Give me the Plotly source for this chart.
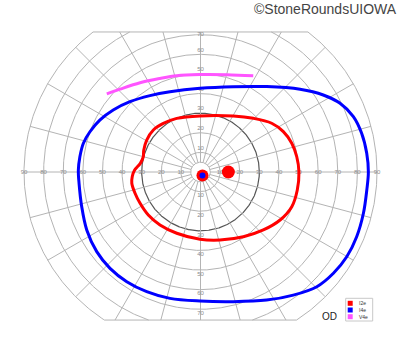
import numpy as np
import plotly.graph_objects as go

# ---------------- data (meridian in degrees, eccentricity in degrees) ----------------
i2e_theta = [0, 9, 17.5, 26, 34.4, 45.5, 59.6, 90.5, 113.9, 127.4, 138.3, 149.3, 159, 165.2,
             171.8, 178.3, 184, 189.3, 198, 207.4, 219.5, 232.6, 248.8, 269.6, 286, 303.5,
             317.3, 328.9, 339.2, 349.5, 360]
i2e_r = [50.2, 49.7, 48.8, 47.0, 44.0, 38.4, 33.1, 28.6, 29.9, 31.2, 32.2, 31.9, 31.0, 30.2,
         31.0, 33.6, 34.9, 35.5, 35.1, 34.7, 34.5, 34.0, 33.5, 34.3, 36.1, 39.6,
         43.6, 47.4, 49.8, 50.2, 50.2]

i4e_theta = [0, 6.4, 13.5, 19.9, 26.2, 32.1, 39.7, 52.2, 69, 90.3, 110.8, 123.5, 135.1, 144.6,
             152.6, 160, 166.2, 172.8, 179.1, 185.3, 196.3, 207, 217.5, 226.8, 236.1, 245.8,
             256.4, 269.8, 284.2, 297.3, 307, 315.4, 322.7, 329.9, 337.5, 345.8, 353.8, 360]
i4e_r = [85.6, 85.3, 84.5, 82.9, 79.3, 73.9, 66.0, 55.1, 46.6, 42.7, 43.8, 46.7, 50.8, 54.6,
         57.7, 60.0, 61.5, 62.0, 62.3, 62.2, 63.1, 65.1, 66.7, 67.4, 67.4, 66.9,
         66.3, 65.8, 68.2, 73.5, 78.6, 83.3, 85.2, 86.2, 86.2, 85.7, 85.3, 85.6]

v4e_theta = [140.2, 134.2, 124.1, 113.4, 103.9, 90.3, 74.9, 61.3]
v4e_r = [62.2, 58.9, 55.0, 52.0, 50.6, 49.7, 51.4, 56.0]

blind_spot_theta = [0]
blind_spot_r = [14.2]
center_theta = [300]
center_r = [2.0]

ring_radii = [5, 10, 20, 30, 40, 50, 60, 70, 80, 90]
meridians = list(range(0, 360, 15))
h_labels = [10, 20, 30, 40, 50, 60, 70, 80, 90]
v_labels = [10, 20, 30, 40, 50, 60, 70]
legend_names = ["I2e", "I4e", "V4e"]
legend_colors = ["#ff0000", "#0000ff", "#ff55ff"]

# ---------------- geometry ----------------
S = 1.961           # px per degree
CX, CY = 200.5, 172.0
TOP, BOT = 71.4, 75.5   # clip limits (deg)
RMAX = 90


def pol(theta, r):
    t = np.radians(np.asarray(theta, float))
    r = np.asarray(r, float)
    return r * np.cos(t), r * np.sin(t)


def px2d(px, py):
    return (px - CX) / S, (CY - py) / S


def ring_xy(r):
    ranges = []
    excl = []
    if r > TOP:
        a = np.degrees(np.arcsin(TOP / r))
        excl.append((a, 180 - a))
    if r > BOT:
        a = np.degrees(np.arcsin(BOT / r))
        excl.append((180 + a, 360 - a))
    start = 0.0
    for (a, b) in excl:
        ranges.append((start, a))
        start = b
    ranges.append((start, 360.0))
    xs, ys = [], []
    for (a, b) in ranges:
        t = np.linspace(a, b, max(2, int((b - a) * 2)))
        x, y = pol(t, np.full_like(t, r))
        xs += list(x) + [None]
        ys += list(y) + [None]
    return xs, ys


fig = go.Figure()
grid = "#b4b4b4"

for r in ring_radii:
    xs, ys = ring_xy(r)
    fig.add_trace(go.Scatter(x=xs, y=ys, mode="lines",
                             line=dict(color="#555555" if r == 30 else grid, width=1.2 if r == 30 else 1),
                             hoverinfo="skip", showlegend=False))

mx, my = [], []
for m in meridians:
    s = np.sin(np.radians(m))
    rend = RMAX
    if s > 1e-9:
        rend = min(rend, TOP / s)
    elif s < -1e-9:
        rend = min(rend, BOT / -s)
    x, y = pol([m, m], [5, rend])
    mx += list(x) + [None]
    my += list(y) + [None]
fig.add_trace(go.Scatter(x=mx, y=my, mode="lines", line=dict(color=grid, width=1),
                         hoverinfo="skip", showlegend=False))

# clip lines at top and bottom
wt = np.sqrt(RMAX ** 2 - TOP ** 2)
wb = np.sqrt(RMAX ** 2 - BOT ** 2)
fig.add_trace(go.Scatter(x=[-wt, wt, None, -wb, wb], y=[TOP, TOP, None, -BOT, -BOT], mode="lines",
                         line=dict(color=grid, width=1), hoverinfo="skip", showlegend=False))

# tick labels
lx, ly, lt = [], [], []
for v in h_labels:
    lx += [v, -v]
    ly += [0, 0]
    lt += [str(v), str(v)]
for v in v_labels:
    lx += [0, 0]
    ly += [min(v + 2.2, 70.3), -(v + 2.2)]
    lt += [str(v), str(v)]
fig.add_trace(go.Scatter(x=lx, y=ly, text=lt, mode="text",
                         textfont=dict(size=6, color="#8c8c8c", family="Liberation Sans"),
                         hoverinfo="skip", showlegend=False))

# isopters
x, y = pol(v4e_theta, v4e_r)
fig.add_trace(go.Scatter(x=x, y=y, mode="lines", line=dict(color=legend_colors[2], width=3, shape="spline"),
                         showlegend=False))
x, y = pol(i4e_theta, i4e_r)
fig.add_trace(go.Scatter(x=x, y=y, mode="lines", line=dict(color=legend_colors[1], width=3, shape="spline"),
                         showlegend=False))
x, y = pol(i2e_theta, i2e_r)
fig.add_trace(go.Scatter(x=x, y=y, mode="lines", line=dict(color=legend_colors[0], width=3, shape="spline"),
                         showlegend=False))

# blind spot and centre
x, y = pol(blind_spot_theta, blind_spot_r)
fig.add_trace(go.Scatter(x=x, y=y, mode="markers", marker=dict(color="#ff0000", size=13, line=dict(width=0)),
                         showlegend=False))
x, y = pol(center_theta, center_r)
fig.add_trace(go.Scatter(x=x, y=y, mode="markers",
                         marker=dict(color="#ff0000", size=12, symbol="circle", line=dict(width=0)),
                         showlegend=False))
fig.add_trace(go.Scatter(x=x, y=y, mode="markers",
                         marker=dict(color="#0000ff", size=6, line=dict(width=0)),
                         showlegend=False))

# legend box (manual)
shapes = []
x0, y0 = px2d(345.7, 298.3)
x1, y1 = px2d(372.7, 321)
shapes.append(dict(type="rect", x0=x0, y0=y0, x1=x1, y1=y1, line=dict(color="#c8c8c8", width=1),
                   fillcolor="white"))
annotations = []
for i, (nm, col) in enumerate(zip(legend_names, legend_colors)):
    cy = 303.3 + i * 6.7
    a0, b0 = px2d(347.7, cy - 2.5)
    a1, b1 = px2d(352.7, cy + 2.5)
    shapes.append(dict(type="rect", x0=a0, y0=b0, x1=a1, y1=b1, line=dict(width=0), fillcolor=col))
    tx, ty = px2d(357, cy)
    annotations.append(dict(x=tx, y=ty, text=nm, showarrow=False, xanchor="left", yanchor="middle",
                            font=dict(size=5, color="#333333", family="Liberation Sans")))

ox, oy = px2d(329, 316.5)
annotations.append(dict(x=ox, y=oy, text="OD", showarrow=False, xanchor="center", yanchor="middle",
                        font=dict(size=10, color="#222222", family="Liberation Sans")))
annotations.append(dict(x=0.997, y=1 - 8.5 / 352, xref="paper", yref="paper", text="©StoneRoundsUIOWA",
                        showarrow=False, xanchor="right", yanchor="middle",
                        font=dict(size=14, color="#444444", family="Liberation Sans")))

fig.update_layout(
    width=400, height=352, margin=dict(l=0, r=0, t=0, b=0),
    paper_bgcolor="white", plot_bgcolor="white",
    xaxis=dict(range=[-CX / S, (400 - CX) / S], visible=False, showgrid=False, zeroline=False, fixedrange=True),
    yaxis=dict(range=[-(352 - CY) / S, CY / S], visible=False, showgrid=False, zeroline=False, fixedrange=True),
    shapes=shapes, annotations=annotations, showlegend=False,
)

fig.write_html("out.html")
